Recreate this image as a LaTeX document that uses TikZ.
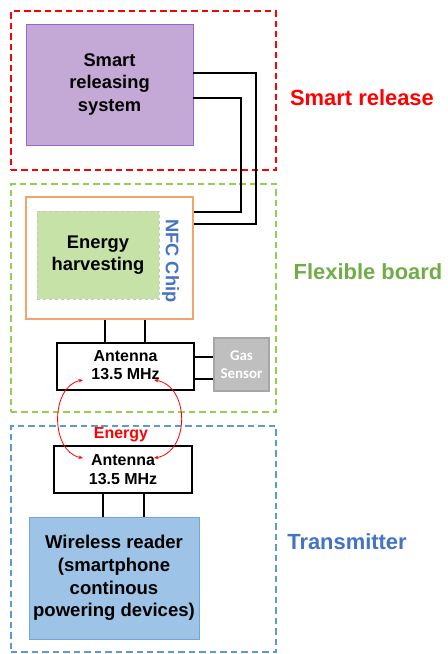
\documentclass[tikz,border=0pt]{standalone}
\usepackage{fontspec}
\setmainfont{Liberation Sans}
\newfontfamily\carlito{Carlito}
\usetikzlibrary{arrows.meta}
\definecolor{rdash}{HTML}{FF0000}
\definecolor{gdash}{HTML}{92D050}
\definecolor{bdash}{HTML}{5B9BD5}
\definecolor{glabel}{HTML}{70AD47}
\definecolor{blabel}{HTML}{4472C4}
\definecolor{purfill}{HTML}{C4A9D7}
\definecolor{purdraw}{HTML}{9966CC}
\definecolor{orng}{HTML}{F2A46B}
\definecolor{ehfill}{HTML}{C6E2A6}
\definecolor{bluefill}{HTML}{9DC3E6}
\definecolor{bluedraw}{HTML}{6FA8DC}
\definecolor{gasfill}{HTML}{BFBFBF}
\definecolor{gasdraw}{HTML}{A6A6A6}
\tikzset{
  box/.style={draw, rectangle, inner sep=0pt, align=center, font=\bfseries},
  region/.style={box, dash pattern=on 6.5pt off 4pt, line width=1.5pt},
  wire/.style={draw=black, line width=1.2pt},
  biglabel/.style={font=\fontsize{22}{26}\selectfont\bfseries},
  energyarrow/.style={red, line width=0.8pt, {Stealth[length=4.5pt,width=3.5pt]}-{Stealth[length=4.5pt,width=3.5pt]}}
}
\begin{document}
\begin{tikzpicture}[x=1bp,y=-1bp]
\useasboundingbox (0,0) rectangle (448,654);
% regions
\node[region, draw=rdash, minimum width=265bp, minimum height=159bp] (rbox) at (143.5,90.5) {};
\node[region, draw=gdash, minimum width=265bp, minimum height=228bp] (gbox) at (143.5,298) {};
\node[region, draw=bdash, minimum width=265bp, minimum height=226bp] (bbox) at (143.5,539) {};
% smart releasing system
\node[box, draw=purdraw, fill=purfill, line width=0.9pt, minimum width=167bp, minimum height=121bp,
  font=\fontsize{18.4}{23}\selectfont\bfseries] (purple) at (109.5,84.5) {Smart\\releasing\\system};
% NFC chip
\node[box, draw=orng, line width=1.3pt, minimum width=167bp, minimum height=122bp] (nfc) at (109.5,258) {};
\node[box, draw=gray!45, fill=ehfill, dashed, line width=0.8pt, minimum width=122bp, minimum height=88bp,
  font=\fontsize{18.4}{22}\selectfont\bfseries] (eh) at (98,255) {Energy\\harvesting};
\node[rotate=-90, text=blabel, font=\fontsize{18.3}{22}\selectfont\bfseries] (nfclabel) at (170.5,261) {NFC Chip};
% antenna 1
\node[box, line width=1.1pt, minimum width=137bp, minimum height=47bp,
  font=\fontsize{16}{19}\selectfont\bfseries] (ant1) at (125.5,366.5) {\raisebox{3bp}{Antenna}\\\raisebox{3bp}{13.5 MHz}};
% gas sensor
\node[box, draw=gasdraw, fill=gasfill, line width=1.2pt, minimum width=55bp, minimum height=53bp,
  text=white, font=\carlito\fontsize{15}{18}\selectfont\bfseries] (gas) at (241.5,364.5) {Gas\\Sensor};
% antenna 2
\node[box, line width=1.1pt, minimum width=138bp, minimum height=47bp,
  font=\fontsize{16}{19}\selectfont\bfseries] (ant2) at (123,469.5) {Antenna\\13.5 MHz};
% wireless reader
\node[box, draw=bluedraw, fill=bluefill, line width=1pt, minimum width=170bp, minimum height=122bp,
  font=\fontsize{18.6}{22.6}\selectfont\bfseries] (reader) at (114,578) {Wireless reader\\(smartphone\\continous\\powering devices)};
% labels
\node[biglabel, text=rdash] (lsr) at (362,98) {Smart release};
\node[biglabel, text=glabel] (lfb) at (368,272) {Flexible board};
\node[biglabel, text=blabel] (ltr) at (347,542) {Transmitter};
\node[text=red, font=\fontsize{16}{19}\selectfont\bfseries] (energy) at (121,435) {Energy};
% wires purple - nfc
\draw[wire] (purple.east |- 0,73) -| (256,224) -- (nfc.east |- 0,224);
\draw[wire] (purple.east |- 0,98) -| (241,212) -- (nfc.east |- 0,212);
% wires nfc - antenna
\draw[wire] (nfc.south -| 105,0) -- (ant1.north -| 105,0);
\draw[wire] (nfc.south -| 145,0) -- (ant1.north -| 145,0);
% wires antenna - gas
\draw[wire] (ant1.east |- 0,357) -- (gas.west |- 0,357);
\draw[wire] (ant1.east |- 0,379) -- (gas.west |- 0,379);
% wires antenna2 - reader
\draw[wire] (ant2.south -| 103,0) -- (reader.north -| 103,0);
\draw[wire] (ant2.south -| 144,0) -- (reader.north -| 144,0);
% energy arrows
\coordinate (a1l) at (83,380);
\coordinate (a2l) at (83,458);
\coordinate (a1r) at (154,380);
\coordinate (a2r) at (154,458);
\draw[energyarrow] (a1l) .. controls (50,386) and (50,452) .. (a2l);
\draw[energyarrow] (a1r) .. controls (190,386) and (190,452) .. (a2r);
\end{tikzpicture}
\end{document}
